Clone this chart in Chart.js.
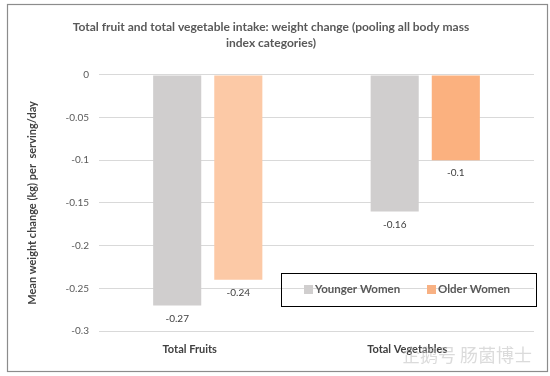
<!DOCTYPE html>
<html><head><meta charset="utf-8">
<script src="https://cdn.jsdelivr.net/npm/chart.js@4"></script>
<style>html,body{margin:0;padding:0;background:#fff}#wrap{position:relative;width:550px;height:376px}</style>
</head><body><div id="wrap"><canvas id="c" width="550" height="376"></canvas></div>
<script>
const categories = ["Total Fruits", "Total Vegetables"];
const seriesNames = ["Younger Women", "Older Women"];
const youngerWomen = [-0.27, -0.16];
const olderWomen = [-0.24, -0.1];
const yTicks = [0, -0.05, -0.1, -0.15, -0.2, -0.25, -0.3];
const titleLines = ["Total fruit and total vegetable intake: weight change (pooling all body mass", "index categories)"];
const yTitle = "Mean weight change (kg) per  serving/day";
const watermark = "企鹅号 肠菌博士";

const FONT = "Lato, 'Open Sans', sans-serif";
const legendColors = ["#d0cece", "#f8b183"];
const barColors = [["#d0cece", "#d0cece"], ["#fcc9a6", "#fbb17f"]];

const extras = {
  id: 'extras',
  beforeDraw(chart) {
    const ctx = chart.ctx;
    ctx.save();
    ctx.fillStyle = '#fff';
    ctx.fillRect(0, 0, chart.width, chart.height);
    ctx.restore();
  },
  afterDraw(chart) {
    const ctx = chart.ctx;
    ctx.save();
    ctx.strokeStyle = '#8c8c8c';
    ctx.lineWidth = 1.2;
    ctx.strokeRect(7.5, 4.5, 540, 367);
    ctx.font = "10px " + FONT;
    ctx.fillStyle = '#404040';
    ctx.textAlign = 'center';
    ctx.textBaseline = 'middle';
    chart.data.datasets.forEach((ds, di) => {
      chart.getDatasetMeta(di).data.forEach((bar, i) => {
        ctx.fillText(String(ds.data[i]), bar.x, bar.y + 13);
      });
    });
    ctx.strokeStyle = '#000';
    ctx.lineWidth = 1;
    ctx.strokeRect(281.5, 273.5, 255, 33);
    ctx.font = "bold 11.5px " + FONT;
    ctx.textAlign = 'left';
    const items = [{x: 304, tx: 315}, {x: 427, tx: 438}];
    chart.data.datasets.forEach((ds, di) => {
      ctx.fillStyle = legendColors[di];
      ctx.fillRect(items[di].x, 285, 9, 9);
      ctx.fillStyle = '#595959';
      ctx.fillText(ds.label, items[di].tx, 289.5);
    });
    ctx.font = "18px 'Noto Sans CJK SC'";
    ctx.fillStyle = 'rgba(190,190,190,0.55)';
    ctx.fillText(watermark, 402, 355);
    ctx.restore();
  }
};

new Chart(document.getElementById('c'), {
  type: 'bar',
  data: {
    labels: categories,
    datasets: [
      {label: seriesNames[0], data: youngerWomen, backgroundColor: barColors[0]},
      {label: seriesNames[1], data: olderWomen, backgroundColor: barColors[1]}
    ]
  },
  options: {
    responsive: false,
    animation: false,
    devicePixelRatio: 1,
    categoryPercentage: 0.562,
    barPercentage: 0.787,
    layout: {padding: {left: 8, right: 16, top: 0, bottom: 0}},
    plugins: {
      legend: {display: false},
      tooltip: {enabled: false},
      title: {
        display: true,
        text: titleLines,
        color: '#595959',
        font: {family: FONT, size: 12, weight: 'bold', lineHeight: 1.33},
        padding: {top: 19, bottom: 24}
      }
    },
    scales: {
      x: {
        grid: {display: false, drawTicks: false},
        border: {display: false},
        ticks: {color: '#404040', font: {family: FONT, size: 11, weight: 'bold'}, padding: 12, labelOffset: -18},
        afterFit(s) { s.height = 45; }
      },
      y: {
        min: -0.3, max: 0,
        afterBuildTicks(s) { s.ticks = yTicks.map(v => ({value: v})); },
        grid: {color: '#d9d9d9', drawTicks: false},
        border: {display: false},
        ticks: {color: '#595959', font: {family: FONT, size: 10}, padding: 10,
                callback: v => String(v)},
        title: {display: true, text: yTitle, color: '#404040',
                font: {family: FONT, size: 11, weight: 'bold'}, padding: {top: 18, bottom: 0}},
        afterFit(s) { s.width = 91; }
      }
    }
  },
  plugins: [extras]
});
</script></body></html>
